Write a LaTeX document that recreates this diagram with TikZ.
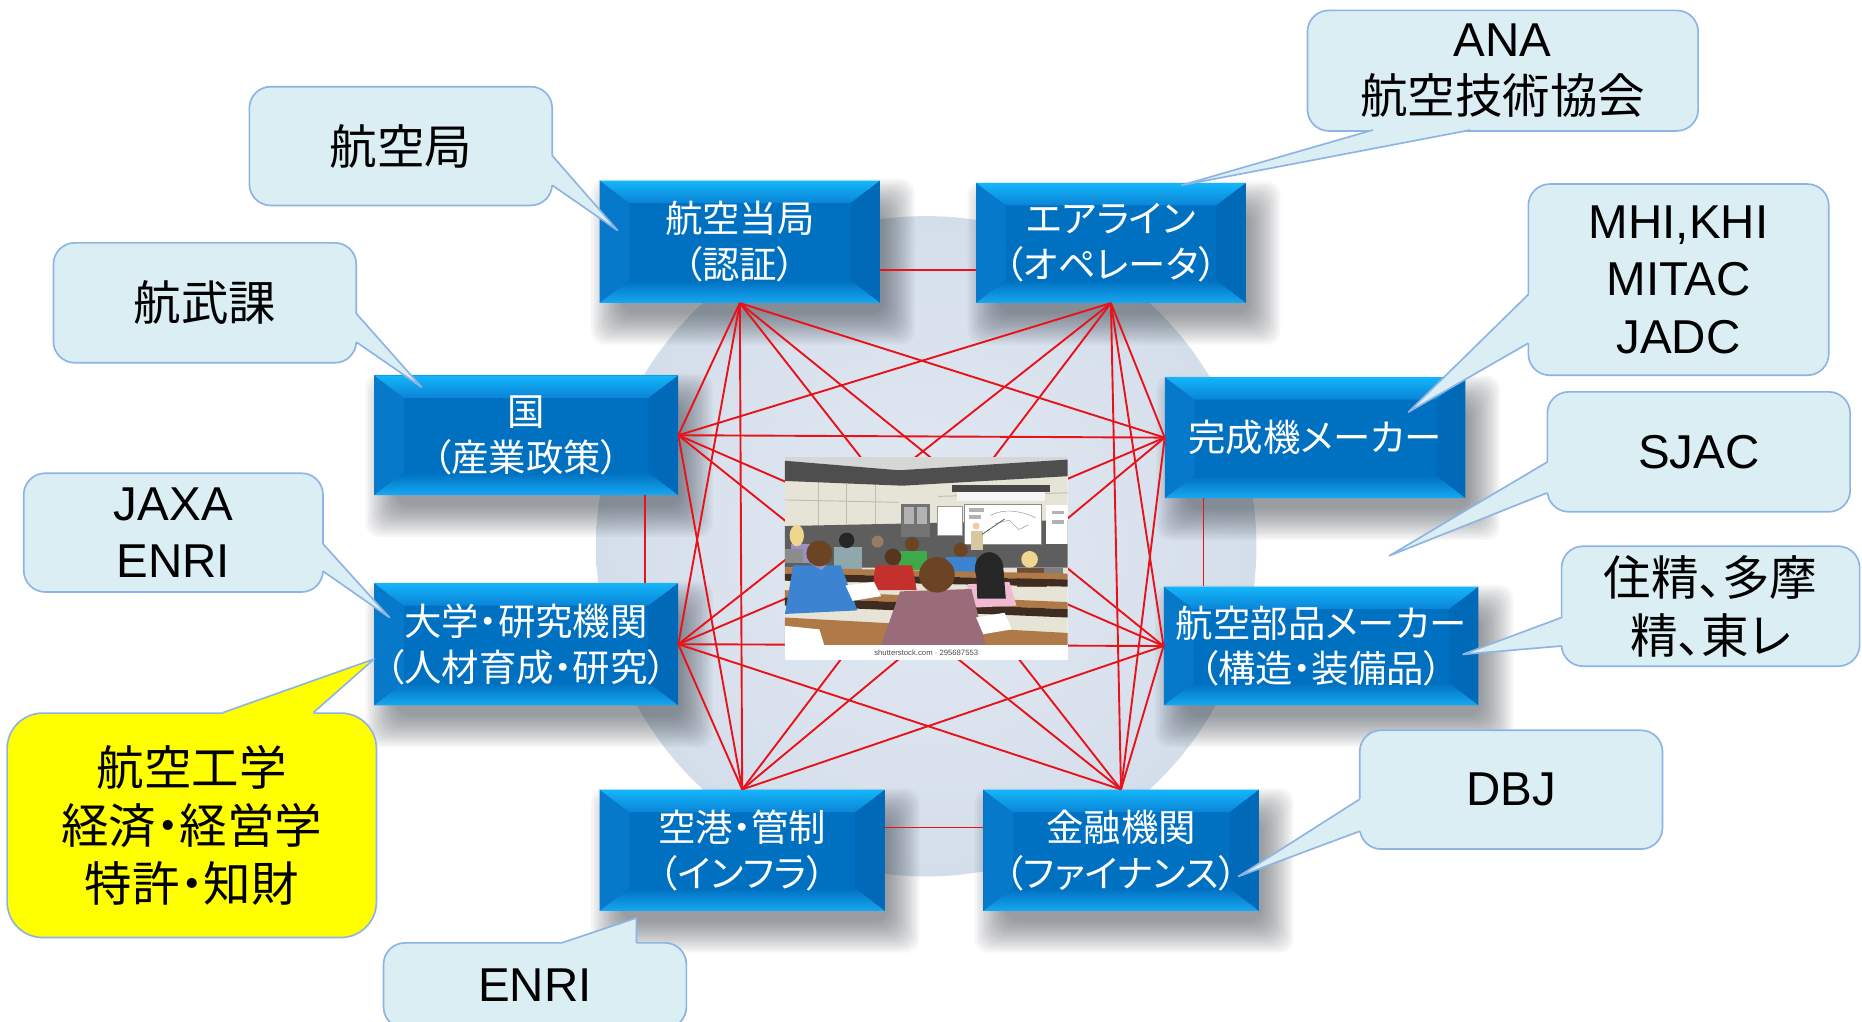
\documentclass[tikz,border=0pt]{standalone}
\usepackage{fontspec}
\setmainfont{Liberation Sans}
\newfontfamily\jp[RawFeature=+palt]{Noto Sans CJK JP}
\usetikzlibrary{calc}

% palette
\definecolor{boxmid}{HTML}{0070C0}
\definecolor{bevtop}{HTML}{14B6FB}
\definecolor{bevtopin}{HTML}{0A84D6}
\definecolor{bevbot}{HTML}{16A8F3}
\definecolor{bevleft}{HTML}{0679CA}
\definecolor{bevright}{HTML}{006AB8}
\definecolor{meshred}{HTML}{E8121A}
\definecolor{cfill}{HTML}{DBEEF4}
\definecolor{cline}{HTML}{8EB4E3}
\definecolor{hubin}{HTML}{E2E9F3}
\definecolor{hubout}{HTML}{D4DEEA}
\definecolor{noteyellow}{HTML}{FFFF00}
\definecolor{shadowgray}{HTML}{30363E}
% lecture hall picture
\definecolor{wallA}{HTML}{E6E4D6}
\definecolor{gridgray}{HTML}{BEBDB0}
\definecolor{ceil}{HTML}{D6D6D6}
\definecolor{band}{HTML}{4E4E4E}
\definecolor{lowwall}{HTML}{5E5E5E}
\definecolor{skin}{HTML}{F2C9A0}
\definecolor{beige}{HTML}{D9C7A0}
\definecolor{hairbrown}{HTML}{6B4423}
\definecolor{hairdark}{HTML}{262626}
\definecolor{blond}{HTML}{EFD68C}
\definecolor{lilac}{HTML}{9C8FC4}
\definecolor{shirtgray}{HTML}{8FA8AE}
\definecolor{shirtgreen}{HTML}{3EA84A}
\definecolor{shirtblue}{HTML}{3C84D2}
\definecolor{shirtred}{HTML}{C4302C}
\definecolor{mauve}{HTML}{9A6B78}
\definecolor{pinkshirt}{HTML}{F2BAD2}
\definecolor{desktop}{HTML}{B07A48}
\definecolor{deskfront}{HTML}{3E2C20}
\definecolor{jacket}{HTML}{6E4E36}

\pgfdeclarelayer{back}
\pgfdeclarelayer{shade}
\pgfsetlayers{back,shade,main}

\tikzset{
  bevelbox/.style={
    inner sep=0pt, align=center, text=white, fill=boxmid,
    font=\jp\fontsize{31.5}{38.5}\selectfont,
    path picture={
      \path (path picture bounding box.north west) coordinate (bNW)
            (path picture bounding box.north east) coordinate (bNE)
            (path picture bounding box.south west) coordinate (bSW)
            (path picture bounding box.south east) coordinate (bSE);
      \fill[bevleft] (bNW) -- ([shift={(25pt,-19pt)}]bNW)
                     -- ([shift={(25pt,19pt)}]bSW) -- (bSW) -- cycle;
      \fill[bevright] (bNE) -- ([shift={(-25pt,-19pt)}]bNE)
                      -- ([shift={(-25pt,19pt)}]bSE) -- (bSE) -- cycle;
      \shade[top color=bevtop, bottom color=bevtopin]
            (bNW) -- (bNE) -- ([shift={(-25pt,-19pt)}]bNE)
            -- ([shift={(25pt,-19pt)}]bNW) -- cycle;
      \shade[top color=boxmid, bottom color=bevbot]
            (bSW) -- (bSE) -- ([shift={(-25pt,19pt)}]bSE)
            -- ([shift={(25pt,19pt)}]bSW) -- cycle;
    }},
  callout/.style={draw=cline, line width=1.4pt, fill=cfill,
    rounded corners=18pt, inner sep=0pt, align=center, text=black,
    font=\fontsize{40}{48.5}\selectfont},
  jptext/.style={font=\jp\fontsize{40}{48.5}\selectfont},
  tailline/.style={draw=cline, line width=1.4pt, line join=round},
  mesh/.style={draw=meshred, line width=1.6pt},
  link/.style={draw=meshred, line width=1.2pt},
}

% wedge of a speech bubble: base point, tip, base point, inward offset
\newcommand\calltail[5][cfill]{%
  \fill[#1] ($#2+#5$) -- #2 -- #3 -- #4 -- ($#4+#5$) -- cycle;
  \draw[tailline] #2 -- #3 -- #4;}

% soft drop shadow under a box, built from stacked translucent layers
\newcommand\dropshadow[1]{%
  \foreach \e in {18,16,...,-8}
    \fill[shadowgray, opacity=0.045, rounded corners=12pt]
      ([xshift={(11-\e)*1pt}, yshift={(-17-\e)*1pt}]#1.south west)
      rectangle ([xshift={(11+\e)*1pt}, yshift={(-17+\e)*1pt}]#1.north east);}

\begin{document}
\begin{tikzpicture}[x=1pt,y=-1pt]
\useasboundingbox (0,0) rectangle (1568,860);
\begin{pgfonlayer}{back}
  \fill[white] (0,0) rectangle (1568,860);
  % central disc
  \shade[inner color=hubin, outer color=hubout] (780,460) circle[radius=278pt];
\end{pgfonlayer}

% the eight stakeholders
\node[bevelbox, minimum width=236pt, minimum height=103pt] (ca)    at (623,203.5)   {航空当局\\（認証）};
\node[bevelbox, minimum width=227pt, minimum height=101pt] (air)   at (935.5,204.5) {エアライン\\（オペレータ）};
\node[bevelbox, minimum width=256pt, minimum height=101pt] (gov)   at (443,366.5)   {国\\（産業政策）};
\node[bevelbox, minimum width=253pt, minimum height=102pt] (oem)   at (1107.5,368.5){完成機メーカー};
\node[bevelbox, minimum width=256pt, minimum height=103pt] (uni)   at (443,542.5)   {大学・研究機関\\（人材育成・研究）};
\node[bevelbox, minimum width=265pt, minimum height=100pt] (parts) at (1112.5,544)  {航空部品メーカー\\（構造・装備品）};
\node[bevelbox, minimum width=240pt, minimum height=102pt] (apt)   at (625,716)     {空港・管制\\（インフラ）};
\node[bevelbox, minimum width=232pt, minimum height=102pt] (fin)   at (944,716)     {金融機関\\（ファイナンス）};

\begin{pgfonlayer}{shade}
  \foreach \n in {ca,air,gov,oem,uni,parts,apt,fin} {\dropshadow{\n}}
\end{pgfonlayer}

% links between neighbouring boxes
\draw[link] ([yshift=-24pt]ca.east) -- ([yshift=-24pt]ca.east -| air.west);
\draw[link] ([xshift=100pt]gov.south) -- ([xshift=100pt]gov.south |- uni.north);
\draw[link] ([xshift=-94pt]oem.south) -- ([xshift=-94pt]oem.south |- parts.north);
\draw[link] ([yshift=19pt]apt.east) -- ([yshift=19pt]apt.east -| fin.west);

% the full network
\coordinate (p1) at (ca.south);
\coordinate (p2) at (air.south);
\coordinate (p3) at (gov.east);
\coordinate (p4) at (oem.west);
\coordinate (p5) at (uni.east);
\coordinate (p6) at (parts.west);
\coordinate (p7) at (apt.north);
\coordinate (p8) at (fin.north);
\foreach \a/\b in {1/3,1/4,1/5,1/6,1/7,1/8,2/3,2/4,2/5,2/6,2/7,2/8,
                   3/4,3/6,3/7,3/8,4/5,4/7,4/8,5/6,5/7,5/8,6/7,6/8}
  \draw[mesh] (p\a) -- (p\b);

% lecture hall illustration
\node[fill=white, minimum width=238pt, minimum height=171pt, inner sep=0pt] (photo) at (780,470.5) {};
\begin{scope}
  \clip (661,385) rectangle (899,543);
  \fill[wallA] (661,385) rectangle (899,545);
  \foreach \x in {689,713,737} \draw[gridgray, line width=0.8pt] (\x,405) -- (\x,445);
  \draw[gridgray, line width=0.8pt] (661,421) -- (757,423);
  \draw[gridgray, line width=0.8pt] (790,418) -- (899,415);
  \fill[ceil] (661,385) -- (899,385) -- (899,387) -- (757,396) -- (661,388) -- cycle;
  \fill[band] (661,388) -- (757,396) -- (899,387) -- (899,401) -- (760,409) -- (661,405) -- cycle;
  \fill[lowwall] (661,443) -- (899,438) -- (899,478) -- (661,478) -- cycle;
  % door and boards
  \fill[black!55] (759,424) rectangle (783,452);
  \fill[black!30] (761,427) rectangle (770,441);
  \fill[black!30] (772,427) rectangle (781,441);
  \fill[white] (789,426) rectangle (810,451);
  \draw[black!40, line width=0.6pt] (789,426) rectangle (810,451);
  \fill[black!72] (802,408) rectangle (884,414);
  \fill[black!4] (806,414) rectangle (880,422);
  \fill[white] (812,425) rectangle (877,458);
  \draw[black!45, line width=0.6pt] (812,425) rectangle (877,458);
  \fill[black!30] (816,428) rectangle (829,431);
  \fill[black!30] (816,434) rectangle (826,437);
  \draw[black!35, line width=0.5pt] (834,434) .. controls (845,428) and (860,430) .. (872,436);
  \draw[black!35, line width=0.5pt] (838,441) -- (850,438) -- (858,446) -- (866,442);
  \fill[white] (881,425) rectangle (899,458);
  \fill[black!30] (886,430) rectangle (896,433);
  \fill[black!30] (886,438) rectangle (896,441);
  % teacher
  \fill[beige] (818,447) rectangle (828,463);
  \fill[skin] (822,443) circle[radius=3pt];
  \draw[black!70, line width=0.6pt] (827,450) -- (846,437);
  % back row
  \fill[lilac] (666,458) rectangle (682,474);
  \fill[blond] (671,451) ellipse[x radius=6pt, y radius=9pt];
  \fill[black!45] (661,462) rectangle (676,474);
  \fill[shirtgray] (702,461) rectangle (726,480);
  \fill[hairdark] (713,455) circle[radius=6.5pt];
  \fill[hairbrown!70] (739,456) circle[radius=5pt];
  \fill[shirtgreen] (757,464) rectangle (781,480);
  \fill[hairbrown] (768,458) circle[radius=6pt];
  \fill[shirtblue] (797,469) rectangle (822,486);
  \fill[hairbrown] (809,463) circle[radius=6pt];
  \fill[jacket] (856,478) rectangle (882,494);
  \fill[blond] (867,471) circle[radius=7pt];
  \fill[black!50] (879,478) rectangle (895,488);
  \fill[desktop] (661,478) -- (899,483) -- (899,488) -- (661,483) -- cycle;
  \fill[deskfront] (661,483) -- (899,488) -- (899,494) -- (661,489) -- cycle;
  % middle row
  \fill[shirtred] (737,476) -- (768,476) -- (772,497) -- (735,497) -- cycle;
  \fill[hairbrown!80!black] (752,469) circle[radius=7pt];
  \fill[desktop] (661,497) -- (899,507) -- (899,513) -- (661,503) -- cycle;
  \fill[deskfront] (661,503) -- (899,513) -- (899,520) -- (661,510) -- cycle;
  \fill[shirtblue] (668,476) -- (708,476) -- (722,514) -- (661,517) -- cycle;
  \fill[lilac] (681,474) -- (697,474) -- (692,480) -- cycle;
  \fill[hairbrown] (690,466) circle[radius=11pt];
  \fill[white] (712,493) -- (736,490) -- (742,502) -- (718,506) -- cycle;
  \fill[pinkshirt] (815,492) -- (850,490) -- (856,510) -- (812,512) -- cycle;
  \fill[hairdark] (833,479) ellipse[x radius=12pt, y radius=14pt];
  \fill[hairdark] (822,480) -- (845,480) -- (847,504) -- (823,504) -- cycle;
  % front row
  \fill[desktop] (661,520) -- (899,533) -- (899,543) -- (661,543) -- cycle;
  \fill[mauve] (758,498) -- (818,496) -- (830,543) -- (742,543) -- cycle;
  \fill[hairbrown] (789,484) circle[radius=15pt];
  \fill[white] (822,520) -- (846,516) -- (852,530) -- (828,534) -- cycle;
  \fill[white] (661,527) -- (690,530) -- (694,543) -- (661,543) -- cycle;
\end{scope}
\node[font=\fontsize{6.5}{7}\selectfont, text=black!70, inner sep=0pt] (credit) at (780,550) {shutterstock.com · 295687553};

% speech bubbles
\node[callout, jptext, minimum width=255pt, minimum height=100pt] (c1) at (337.5,123) {航空局};
\calltail{(465,131)}{(520,194)}{(465,156)}{(-3,0)}
\node[callout, jptext, minimum width=255pt, minimum height=101pt] (c2) at (172.5,255) {航武課};
\calltail{(300,264)}{(355,326)}{(300,288)}{(-3,0)}
\node[callout, minimum width=252pt, minimum height=100pt] (c3) at (146,448.5) {JAXA\\ENRI};
\calltail{(272,458)}{(328,520)}{(272,481)}{(-3,0)}
\node[callout, jptext, fill=noteyellow, rounded corners=30pt, minimum width=311pt, minimum height=189pt] (c4) at (161.5,695) {航空工学\\経済・経営学\\特許・知財};
\calltail[noteyellow]{(188,600)}{(315,555)}{(264,600)}{(0,3)}
\node[callout, minimum width=255pt, minimum height=72pt] (c5) at (450.5,830) {ENRI};
\calltail{(473,794)}{(536,773)}{(536,794)}{(0,3)}
\node[callout, jptext, minimum width=329pt, minimum height=101.5pt] (c6) at (1265.5,59.5) {{\rmfamily ANA}\\航空技術協会};
\calltail{(1156,109.5)}{(995,156)}{(1238,109.5)}{(0,-3)}
\node[callout, minimum width=253pt, minimum height=161pt] (c7) at (1413.5,235.5) {MHI,KHI\\MITAC\\JADC};
\calltail{(1287,248)}{(1186,347)}{(1287,289)}{(3,0)}
\node[callout, minimum width=255pt, minimum height=101pt] (c8) at (1430.5,380.5) {SJAC};
\calltail{(1303,389)}{(1170,468)}{(1303,415)}{(3,0)}
\node[callout, jptext, minimum width=251pt, minimum height=101pt] (c9) at (1440.5,510.5) {住精、多摩\\精、東レ};
\calltail{(1315,520)}{(1232,551)}{(1315,544)}{(3,0)}
\node[callout, minimum width=255pt, minimum height=100pt] (c10) at (1272.5,665) {DBJ};
\calltail{(1145,673)}{(1043,738)}{(1145,700)}{(3,0)}
\end{tikzpicture}
\end{document}
